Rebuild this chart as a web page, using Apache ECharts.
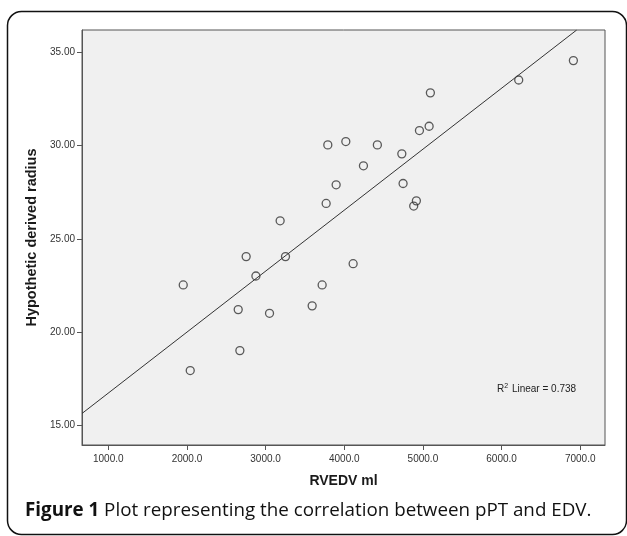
<!DOCTYPE html>
<html>
<head>
<meta charset="utf-8">
<script src="https://cdn.jsdelivr.net/npm/echarts@6/dist/echarts.min.js"></script>
<style>
  html, body { margin: 0; padding: 0; background: #fff; }
  #chart { width: 627px; height: 536px; }
</style>
</head>
<body>
<div id="chart"></div>
<script>
// RVEDV (ml) against hypothetic derived radius
var rvedv  = [1953, 2042, 2652, 2673, 2753, 2877, 3050, 3185, 3253, 3592, 3719,
              3770, 3791, 3897, 4020, 4113, 4244, 4421, 4732, 4748, 4883, 4917,
              4956, 5079, 5095, 6218, 6913];
var radius = [22.53, 17.94, 21.21, 19.01, 24.05, 23.01, 21.01, 25.97, 24.05, 21.41, 22.53,
              26.90, 30.04, 27.90, 30.22, 23.67, 28.92, 30.04, 29.56, 27.97, 26.76, 27.04,
              30.81, 31.04, 32.83, 33.52, 34.56];

// linear fit line, ends (where it meets the frame)
var fitX = [666, 6955];
var fitY = [15.64, 36.2];

var xTicks = [1000, 2000, 3000, 4000, 5000, 6000, 7000];
var yTicks = [15, 20, 25, 30, 35];

var points = rvedv.map(function (x, i) { return [x, radius[i]]; });
var fitLine = fitX.map(function (x, i) { return [x, fitY[i]]; });

var labelFont = 'Liberation Sans, Arial, sans-serif';

var myChart = echarts.init(document.getElementById('chart'));
var option = {
  backgroundColor: '#fff',
  animation: false,
  grid: {
    left: 82, top: 30, right: 22, bottom: 91,
    show: true,
    backgroundColor: '#f0f0f0',
    borderColor: '#555',
    borderWidth: 1
  },
  xAxis: {
    type: 'value',
    min: 666, max: 7315,
    name: 'RVEDV ml',
    nameLocation: 'middle',
    nameGap: 29,
    nameTextStyle: { fontFamily: labelFont, fontWeight: 'bold', fontSize: 14, color: '#1a1a1a' },
    axisLine: { show: true, lineStyle: { color: '#555' } },
    axisTick: { show: true, length: 5, customValues: xTicks, lineStyle: { color: '#555' } },
    axisLabel: {
      customValues: xTicks,
      margin: 9,
      fontFamily: labelFont, fontSize: 10, color: '#333',
      formatter: function (v) { return v.toFixed(1); }
    },
    splitLine: { show: false }
  },
  yAxis: {
    type: 'value',
    min: 13.95, max: 36.2,
    name: 'Hypothetic derived radius',
    nameLocation: 'middle',
    nameGap: 33,
    nameTextStyle: { fontFamily: labelFont, fontWeight: 'bold', fontSize: 14.5, color: '#1a1a1a' },
    axisLine: { show: true, lineStyle: { color: '#555' } },
    axisTick: { show: true, length: 5, customValues: yTicks, lineStyle: { color: '#555' } },
    axisLabel: {
      customValues: yTicks,
      margin: 7,
      fontFamily: labelFont, fontSize: 10, color: '#333',
      formatter: function (v) { return v.toFixed(2); }
    },
    splitLine: { show: false }
  },
  title: {
    left: 20, top: 496,
    text: '{b|Figure 1} Plot representing the correlation between pPT and EDV.',
    textStyle: {
      fontFamily: 'Open Sans', fontSize: 18.8, fontWeight: 'normal', color: '#111',
      rich: { b: { fontFamily: 'Open Sans', fontSize: 18.8, fontWeight: 'bold', color: '#111' } }
    }
  },
  graphic: [
    {
      type: 'rect',
      shape: { x: 7.5, y: 11.5, width: 619, height: 523, r: 14 },
      style: { fill: 'none', stroke: '#111', lineWidth: 1.5 },
      silent: true
    },
    {
      type: 'text',
      left: 497, top: 383,
      style: {
        text: 'R{s|2} Linear = 0.738',
        font: '10px ' + labelFont,
        fill: '#222',
        rich: { s: { fontSize: 7, verticalAlign: 'top', padding: [0, 1, 5, 0], fill: '#222' } }
      }
    }
  ],
  series: [
    {
      type: 'line',
      data: fitLine,
      symbol: 'none',
      clip: true,
      lineStyle: { color: '#333', width: 1 },
      z: 2
    },
    {
      type: 'scatter',
      data: points,
      symbol: 'circle',
      symbolSize: 8,
      itemStyle: { color: 'rgba(0,0,0,0)', borderColor: '#333', borderWidth: 1.3 },
      z: 3
    }
  ]
};
myChart.setOption(option);
</script>
</body>
</html>
